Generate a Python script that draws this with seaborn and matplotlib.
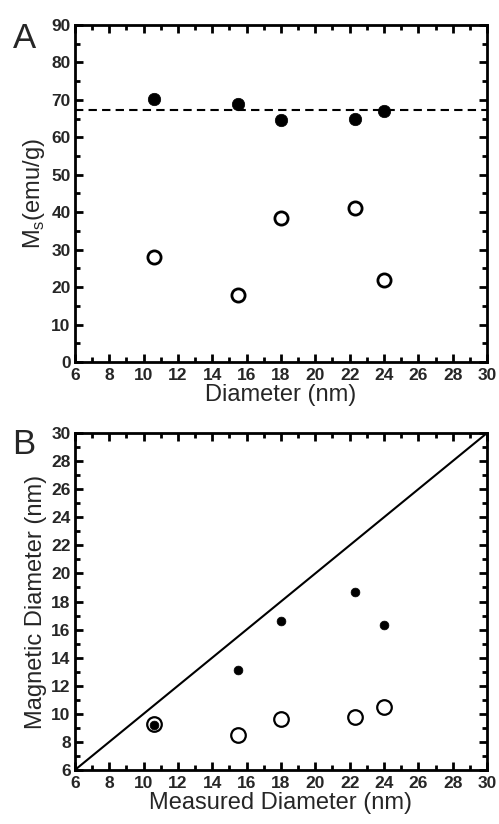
import matplotlib
matplotlib.use('Agg')
import matplotlib.pyplot as plt
import numpy as np
import pandas as pd
import seaborn as sns
from matplotlib.ticker import MultipleLocator

# panel A data
diam = [10.6, 15.5, 18.0, 22.3, 24.0]
ms_filled = [70.2, 69.0, 64.5, 65.0, 67.0]
ms_open = [28.0, 18.0, 38.5, 41.0, 22.0]
ms_bulk = 67.2

# panel B data
mag_filled = [9.2, 13.1, 16.6, 18.7, 16.3]
mag_open = [9.3, 8.5, 9.6, 9.8, 10.5]
diag = [6, 30]

sns.set_theme(style='ticks')
plt.rcParams['font.family'] = ['Liberation Sans', 'DejaVu Sans']
plt.rcParams['mathtext.fontset'] = 'custom'
plt.rcParams['mathtext.rm'] = 'Liberation Sans'

fig = plt.figure(figsize=(4.99, 8.24), dpi=100)
ax1 = fig.add_axes([0.150, 0.5607, 0.826, 0.409])
ax2 = fig.add_axes([0.150, 0.0655, 0.826, 0.409])

dfa = pd.DataFrame({'d': diam, 'f': ms_filled, 'o': ms_open})
dfb = pd.DataFrame({'d': diam, 'f': mag_filled, 'o': mag_open})

ax1.axhline(ms_bulk, color='black', lw=1.5, ls=(0, (4, 2.5)), zorder=1)
sns.scatterplot(data=dfa, x='d', y='f', ax=ax1, color='black', s=80,
                edgecolor='black', linewidth=0.5, zorder=3)
sns.scatterplot(data=dfa, x='d', y='o', ax=ax1, facecolor='white', s=90,
                edgecolor='black', linewidth=2, zorder=3)

ax2.plot(diag, diag, color='black', lw=1.5, zorder=1)
sns.scatterplot(data=dfb, x='d', y='o', ax=ax2, facecolor='white', s=110,
                edgecolor='black', linewidth=1.6, zorder=2)
sns.scatterplot(data=dfb, x='d', y='f', ax=ax2, color='black', s=40,
                edgecolor='black', linewidth=0.5, zorder=3)

ax1.set_xlim(6, 30)
ax1.set_ylim(0, 90)
ax1.xaxis.set_major_locator(MultipleLocator(2))
ax1.xaxis.set_minor_locator(MultipleLocator(1))
ax1.yaxis.set_major_locator(MultipleLocator(10))
ax1.yaxis.set_minor_locator(MultipleLocator(5))
ax1.set_xlabel('Diameter (nm)', fontsize=17, labelpad=1)
ax1.set_ylabel(r'M$_\mathregular{s}$(emu/g)', fontsize=17, labelpad=3)

ax2.set_xlim(6, 30)
ax2.set_ylim(6, 30)
ax2.xaxis.set_major_locator(MultipleLocator(2))
ax2.xaxis.set_minor_locator(MultipleLocator(1))
ax2.yaxis.set_major_locator(MultipleLocator(2))
ax2.yaxis.set_minor_locator(MultipleLocator(1))
ax2.set_xlabel('Measured Diameter (nm)', fontsize=17, labelpad=1)
ax2.set_ylabel('Magnetic Diameter (nm)', fontsize=17, labelpad=3)

for ax in (ax1, ax2):
    for sp in ax.spines.values():
        sp.set_linewidth(2)
        sp.set_color('black')
    ax.tick_params(which='both', direction='in', top=True, right=True,
                   color='black', width=2)
    ax.tick_params(which='major', length=6, labelsize=12.5)
    ax.tick_params(which='minor', length=3.5)
    ax.tick_params(axis='y', which='major', pad=3)
    ax.tick_params(axis='x', which='major', pad=4)
    for lab in ax.get_xticklabels() + ax.get_yticklabels():
        lab.set_fontweight('bold')

fig.text(0.025, 0.942, 'A', fontsize=25)
fig.text(0.025, 0.449, 'B', fontsize=25)

fig.savefig('out.png', dpi=100)
